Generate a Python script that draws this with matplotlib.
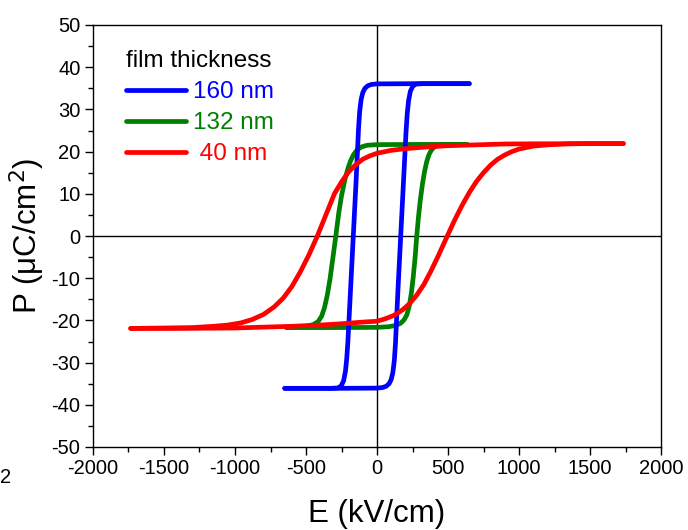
import matplotlib
matplotlib.use("Agg")
import matplotlib.pyplot as plt
from matplotlib.ticker import MultipleLocator

plt.rcParams["font.family"] = ["Liberation Sans", "DejaVu Sans"]
plt.rcParams["axes.unicode_minus"] = False

# 160 nm loop (blue)
e160_up = [-650, -300, 0, 40, 65, 85, 100, 112, 122, 130, 148, 167, 186, 205, 213, 222, 235, 252, 275, 320, 650]
p160_up = [-36.1, -36.1, -36.05, -35.9, -35.6, -35.0, -34.0, -32.3, -29.5, -25.5, -12.5, 0, 12.5, 25.0, 29.0, 32.0, 34.3, 35.5, 36.0, 36.1, 36.1]
e160_down = [650, 300, 0, -40, -65, -85, -100, -112, -122, -130, -148, -167, -186, -205, -213, -222, -235, -252, -275, -320, -650]
p160_down = [36.1, 36.1, 36.05, 35.9, 35.6, 35.0, 34.0, 32.3, 29.5, 25.5, 12.5, 0, -12.5, -25.0, -29.0, -32.0, -34.3, -35.5, -36.0, -36.1, -36.1]

# 132 nm loop (green)
e132_up = [-635, -300, 0, 80, 130, 165, 190, 210, 228, 242, 255, 268, 280, 292, 305, 320, 335, 350, 365, 380, 400, 430, 480, 635]
p132_up = [-21.7, -21.7, -21.65, -21.5, -21.2, -20.7, -19.9, -18.7, -16.5, -13.5, -9.8, -5.2, 0, 4.5, 8.5, 12.3, 15.3, 17.6, 19.2, 20.2, 21.0, 21.5, 21.7, 21.7]
e132_down = [635, 300, 0, -70, -110, -140, -165, -185, -205, -225, -250, -270, -290, -310, -330, -350, -370, -390, -415, -450, -500, -560, -640]
p132_down = [21.7, 21.7, 21.65, 21.5, 21.1, 20.4, 19.3, 17.9, 16.0, 13.5, 9.5, 5.3, 0, -5.0, -10.0, -14.0, -17.0, -19.0, -20.3, -21.0, -21.4, -21.6, -21.7]

# 40 nm loop (red)
e40_up = [-1735, -1400, -1200, -1000, -800, -600, -400, -250, -100, 0, 60, 120, 180, 230, 280, 330, 380, 430, 495,
          550, 600, 650, 700, 750, 800, 850, 900, 950, 1000, 1100, 1200, 1350, 1500, 1735]
p40_up = [-21.9, -21.9, -21.85, -21.8, -21.6, -21.4, -21.1, -20.8, -20.4, -20.2, -19.6, -18.8, -17.5, -16.0, -14.0, -11.5, -8.3, -4.8, 0,
          4.0, 7.3, 10.3, 12.9, 15.0, 16.8, 18.2, 19.2, 20.0, 20.6, 21.3, 21.6, 21.85, 21.9, 21.9]
e40_down = [1735, 1500, 1300, 1100, 900, 700, 500, 350, 200, 100, 0, -50, -100, -150, -200, -250, -300, -360, -420,
            -480, -540, -600, -660, -724, -800, -880, -960, -1050, -1150, -1300, -1500, -1735]
p40_down = [21.9, 21.9, 21.85, 21.85, 21.8, 21.6, 21.4, 21.1, 20.7, 20.3, 19.6, 19.0, 18.2, 16.9, 15.2, 12.8, 10.0, 5.0, 0,
            -4.5, -8.5, -12.0, -14.7, -16.8, -18.6, -19.8, -20.6, -21.1, -21.4, -21.7, -21.8, -21.9]

fig = plt.figure(figsize=(6.88, 5.30), dpi=100)
ax = fig.add_axes([93 / 688, 1 - 447 / 530, (661 - 93) / 688, (447 - 25) / 530])

ax.axhline(0, color="black", lw=1, zorder=1)
ax.axvline(0, color="black", lw=1, zorder=1)

lw = 3.4
style = dict(lw=lw, solid_capstyle="round", solid_joinstyle="round")
ax.plot(e160_up, p160_up, color="#0000ff", label="160 nm", zorder=3, **style)
ax.plot(e160_down, p160_down, color="#0000ff", zorder=3, **style)
ax.plot(e132_up, p132_up, color="#008000", label="132 nm", zorder=2, **style)
ax.plot(e132_down, p132_down, color="#008000", zorder=2, **style)
ax.plot(e40_up, p40_up, color="#ff0000", label=" 40 nm", zorder=4, **style)
ax.plot(e40_down, p40_down, color="#ff0000", zorder=4, **style)

ax.set_xlim(-2000, 2000)
ax.set_ylim(-50, 50)
ax.xaxis.set_major_locator(MultipleLocator(500))
ax.xaxis.set_minor_locator(MultipleLocator(250))
ax.yaxis.set_major_locator(MultipleLocator(10))
ax.yaxis.set_minor_locator(MultipleLocator(5))
ax.tick_params(which="major", direction="out", length=6, width=1, labelsize=14.5, pad=3)
ax.tick_params(which="minor", direction="out", length=3.5, width=1)
for s in ax.spines.values():
    s.set_linewidth(1)

ax.set_xlabel("E (kV/cm)", fontsize=22.5, labelpad=15)
ax.set_ylabel("P (\u03bcC/cm$^2$)", fontsize=22.5, labelpad=3)

leg = ax.legend(title="film thickness", loc="upper left", bbox_to_anchor=(0.041, 0.963),
                frameon=False, fontsize=17.5, title_fontsize=17.5, handlelength=2.45,
                handletextpad=0.3, labelspacing=0.37, borderaxespad=0, alignment="left")
for t, c in zip(leg.get_texts(), ["#0000ff", "#008000", "#ff0000"]):
    t.set_color(c)

fig.text(0.0, 0.088, "2", fontsize=14.5)

fig.savefig("out.png", dpi=100)
